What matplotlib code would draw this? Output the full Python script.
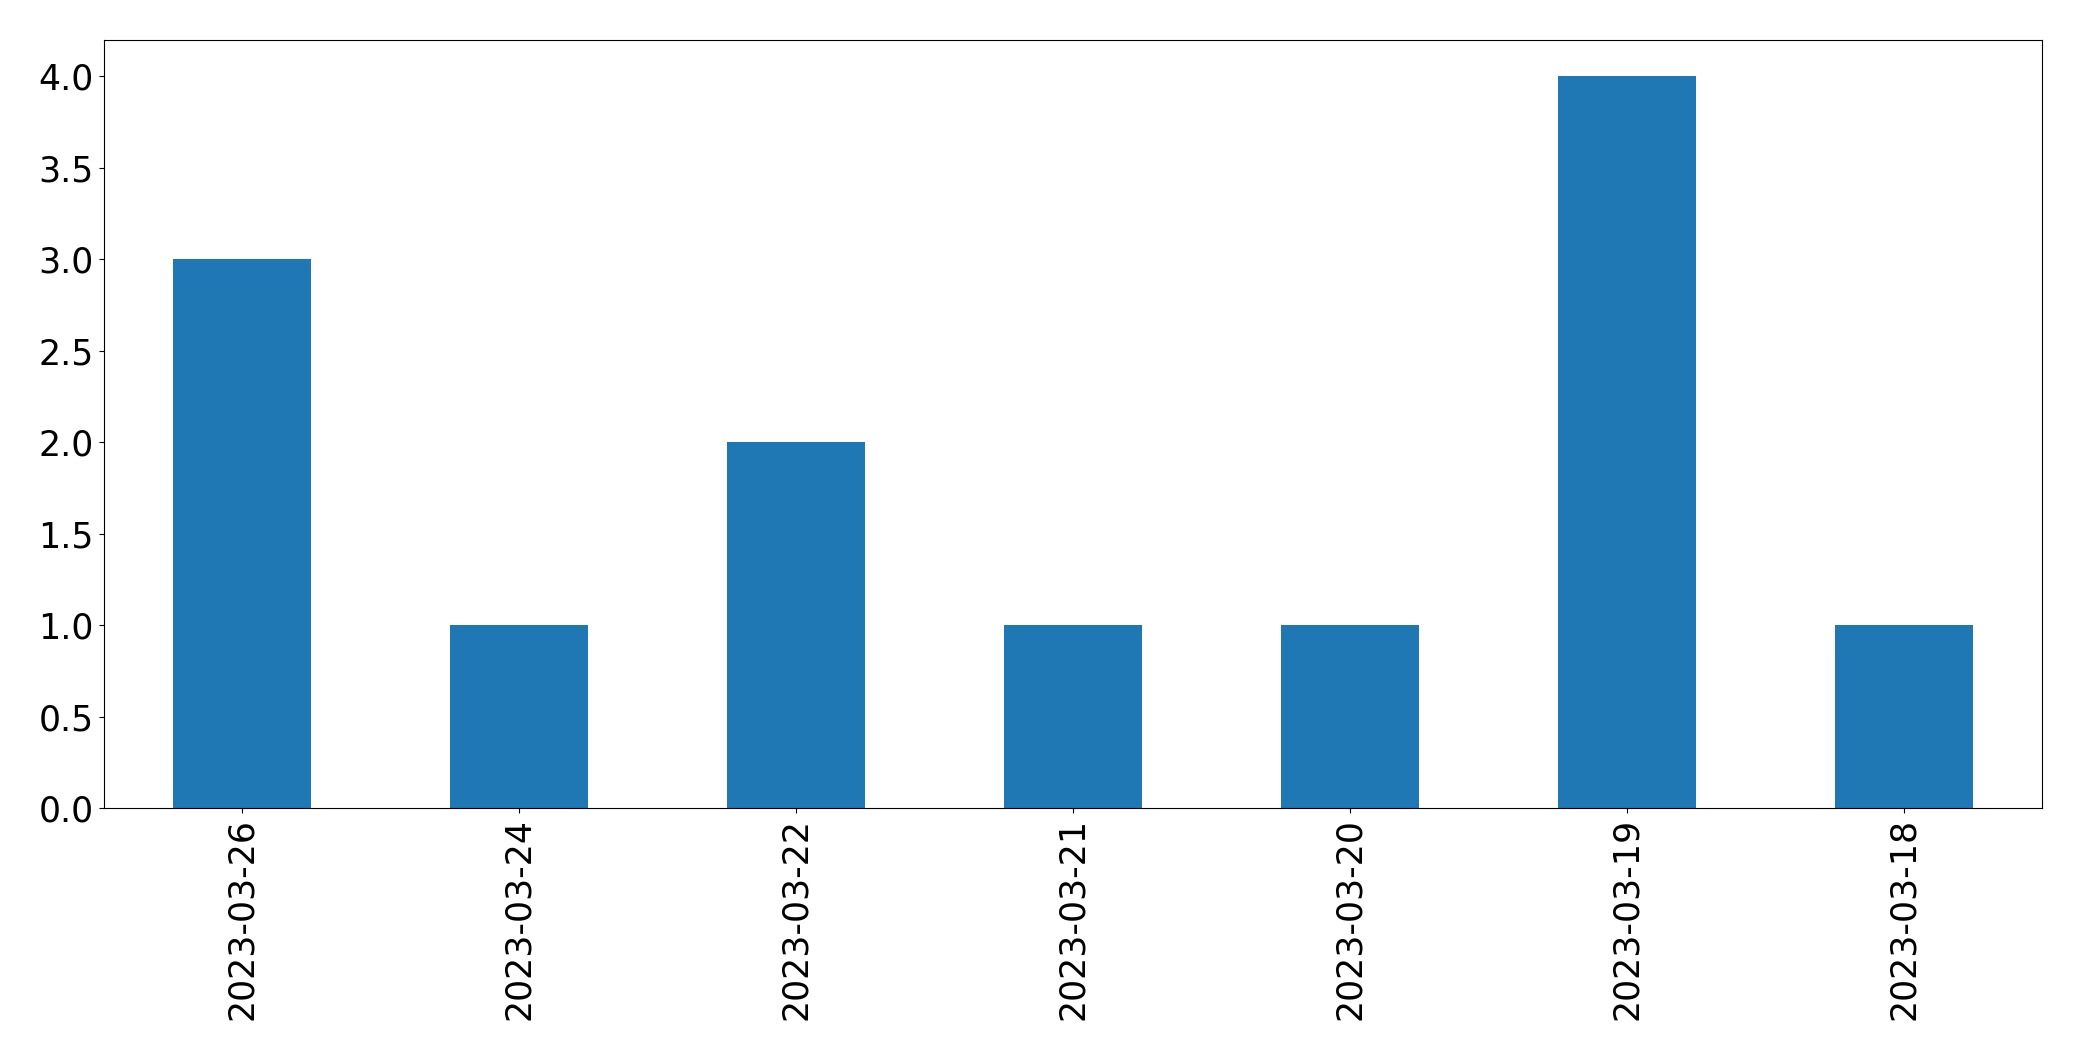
import matplotlib
matplotlib.use('Agg')
import matplotlib.pyplot as plt
import pandas as pd

dates = ['2023-03-26', '2023-03-24', '2023-03-22', '2023-03-21',
         '2023-03-20', '2023-03-19', '2023-03-18']
counts = [3, 1, 2, 1, 1, 4, 1]

s = pd.Series(counts, index=dates)

fig, ax = plt.subplots(figsize=(20.82, 10.61), dpi=100)
s.plot(kind='bar', ax=ax, color='#1f77b4', fontsize=25)
ax.set_ylim(0, 4.2)
plt.subplots_adjust(left=0.0498, right=0.981, top=0.9625, bottom=0.238)
plt.savefig('out.png', dpi=100)
